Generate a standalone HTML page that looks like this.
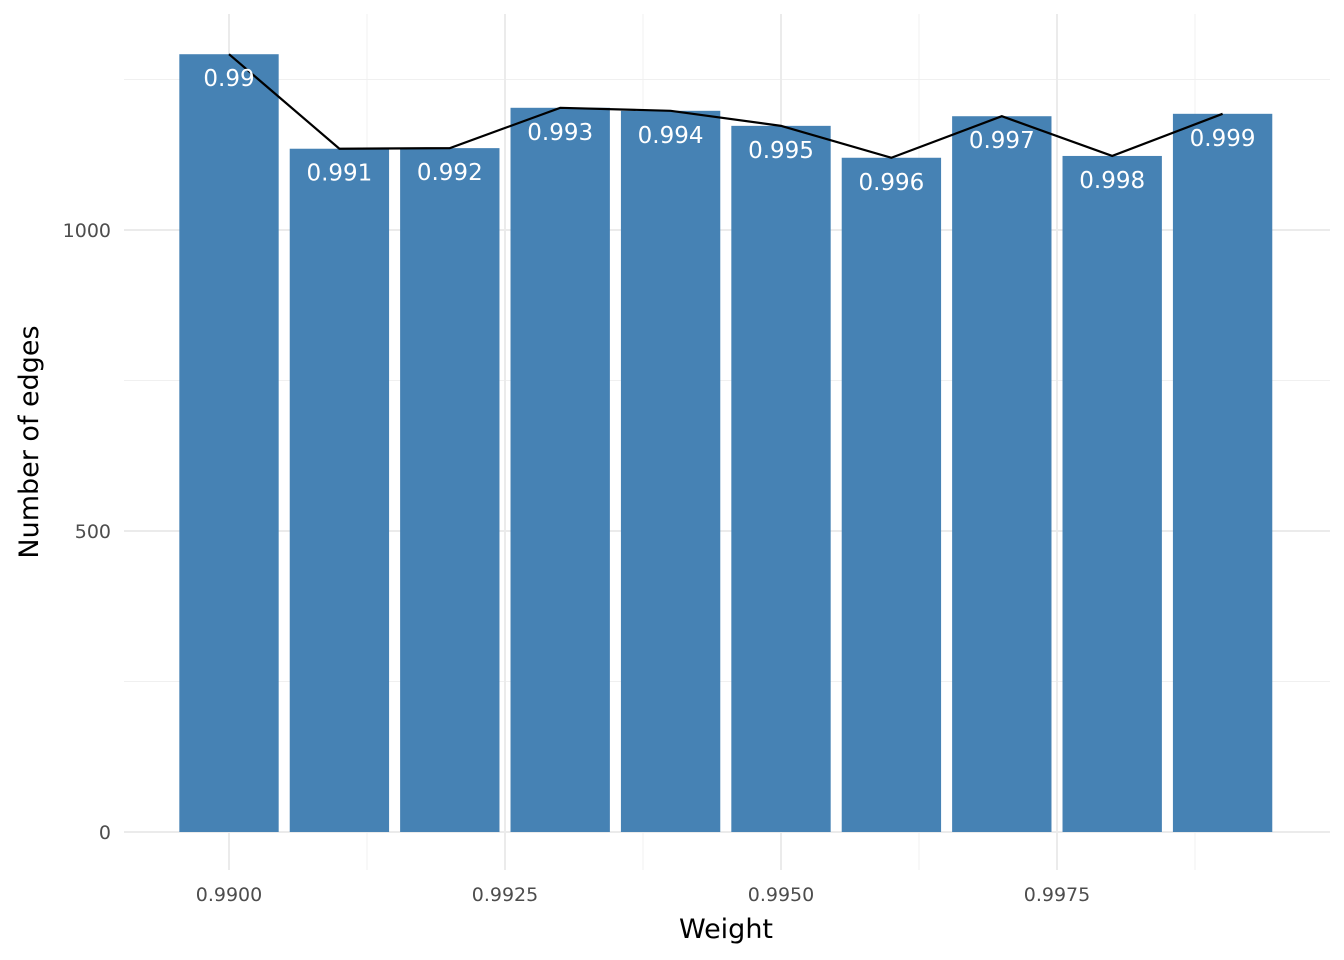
<!DOCTYPE html>
<html><head><meta charset="utf-8"><style>
body{margin:0;background:#fff;}
svg{display:block;font-family:"DejaVu Sans","Liberation Sans",sans-serif;}
</style></head><body>
<svg id="chart" width="1344" height="960" viewBox="0 0 1344 960">
<g id="grid"></g>
<g id="bars"></g>
<g id="line"></g>
<g id="labels"></g>
<g id="axes"></g>
<text x="726" y="938" font-size="27" text-anchor="middle" fill="#000">Weight</text>
<text transform="translate(38,442) rotate(-90)" font-size="27" text-anchor="middle" fill="#000">Number of edges</text>
</svg>
<script>
const categories=[0.990,0.991,0.992,0.993,0.994,0.995,0.996,0.997,0.998,0.999];
const labels=["0.99","0.991","0.992","0.993","0.994","0.995","0.996","0.997","0.998","0.999"];
const counts=[1292,1135,1136,1203,1198,1173,1120,1189,1123,1193];
const xTicks=[0.99,0.9925,0.995,0.9975];
const xTickLabels=["0.9900","0.9925","0.9950","0.9975"];
const xMinor=[0.99125,0.99375,0.99625,0.99875];
const yTicks=[0,500,1000];
const yMinor=[250,750,1250];
const NS="http://www.w3.org/2000/svg";
const X=v=>229+(v-0.99)*110400;
const Y=v=>832-v*0.602;
const L=124,R=1330,T=14,B=870;
function mk(tag,attrs,parent){const e=document.createElementNS(NS,tag);for(const k in attrs)e.setAttribute(k,attrs[k]);document.getElementById(parent).appendChild(e);return e;}
xMinor.forEach(v=>{const e=mk('line',{x1:X(v),x2:X(v),y1:T,y2:B,stroke:'#f0f0f0','stroke-width':1},'grid');

});
yMinor.forEach(v=>{const e=mk('line',{x1:L,x2:R,y1:Y(v),y2:Y(v),stroke:'#f0f0f0','stroke-width':1},'grid');

});
xTicks.forEach((v,i)=>{const e=mk('line',{x1:X(v),x2:X(v),y1:T,y2:B,stroke:'#ebebeb','stroke-width':2},'grid');


const t=mk('text',{x:X(v),y:901,'font-size':19,'text-anchor':'middle',fill:'#4d4d4d'},'axes');t.textContent=xTickLabels[i];

});
yTicks.forEach(v=>{const e=mk('line',{x1:L,x2:R,y1:Y(v),y2:Y(v),stroke:'#ebebeb','stroke-width':2},'grid');


const t=mk('text',{x:111,y:Y(v)+7,'font-size':19,'text-anchor':'end',fill:'#4d4d4d'},'axes');t.textContent=v;

});
const bw=0.0009*110400;
let pts=[];
categories.forEach((c,i)=>{const x=X(c),y=Y(counts[i]);
const b=mk('rect',{x:x-bw/2,y:y,width:bw,height:Y(0)-y,fill:'#4682b4'},'bars');


const t=mk('text',{x:x,y:y+32,'font-size':23,'text-anchor':'middle',fill:'#fff'},'labels');t.textContent=labels[i];


pts.push(x+','+y);});
const p=mk('polyline',{points:pts.join(' '),fill:'none',stroke:'#000','stroke-width':2.2},'line');


</script>
</body></html>
